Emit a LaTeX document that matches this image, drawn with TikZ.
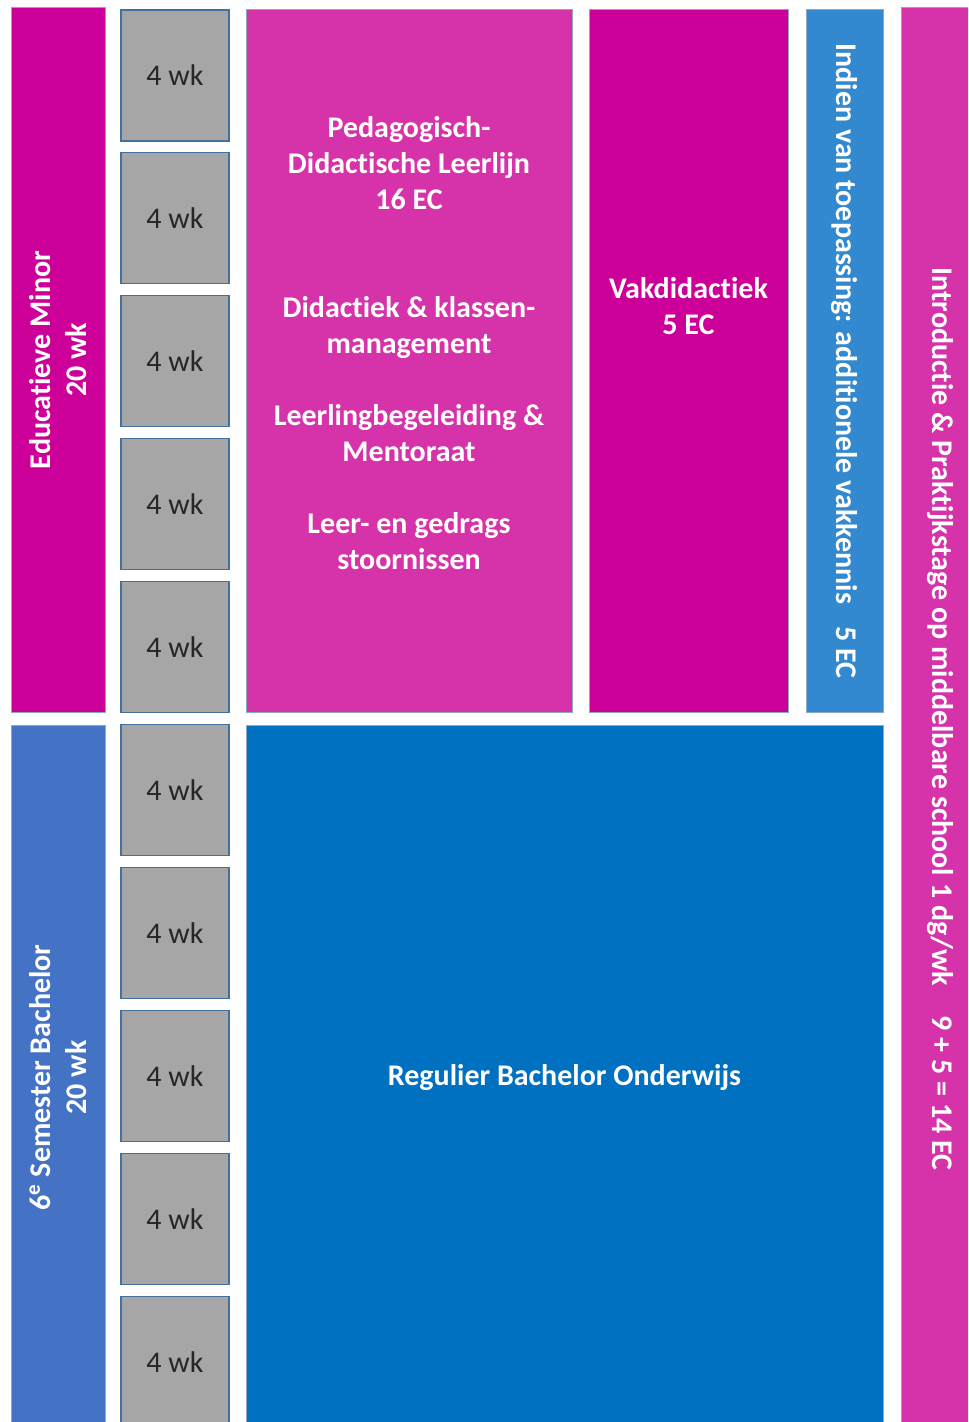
\documentclass[tikz,border=0pt]{standalone}
\usepackage{fontspec}
\setmainfont[Ligatures=NoCommon]{Carlito}
\usepackage{tikz}
\usetikzlibrary{positioning}

\definecolor{minormagenta}{RGB}{204, 0, 153}
\definecolor{leerlijnpink}{RGB}{214, 51, 170}
\definecolor{vakblauw}{RGB}{50, 137, 207}
\definecolor{semesterblauw}{RGB}{68, 114, 196}
\definecolor{regulierblauw}{RGB}{0, 112, 192}
\definecolor{weekgrijs}{RGB}{166, 166, 166}
\definecolor{randkleur}{RGB}{65, 113, 156}

\tikzset{
    blok/.style={draw=randkleur!60, line width=0.5pt, rectangle, inner sep=0pt, text=white, align=center, font=\bfseries\fontsize{15}{18}\selectfont},
    minorblok/.style={blok, fill=minormagenta},
    leerlijnblok/.style={blok, fill=leerlijnpink},
    vakblok/.style={blok, fill=vakblauw},
    semesterblok/.style={blok, fill=semesterblauw},
    regulierblok/.style={blok, fill=regulierblauw},
    weekblok/.style={draw=randkleur, line width=0.6pt, rectangle, fill=weekgrijs, minimum width=54pt, minimum height=65.5pt, text={black!85}, font=\fontsize{15}{18}\selectfont},
    bloktekst/.style={text=white, align=center, font=\bfseries\fontsize{15}{18}\selectfont},
}

\begin{document}
\begin{tikzpicture}[x=0.5pt, y=-0.5pt]
            \clip (0,0) rectangle (968,1422);
            \fill[white] (0,0) rectangle (968,1422);

            % Linker kolom
            \node[minorblok, minimum width=352pt, minimum height=47pt, rotate=90] (minor) at (58, 360) {Educatieve Minor\\20 wk};
            \node[semesterblok, minimum width=352.5pt, minimum height=47pt, rotate=90] (semester) at (58, 1077.5) {6\textsuperscript{e} Semester Bachelor\\20 wk};

            % Weken
            \foreach \i in {0,...,9}
                \node[weekblok] (week\i) at (175, 75.5+142.9*\i) {4 wk};

            % Leerlijn
            \node[leerlijnblok, minimum width=163pt, minimum height=351pt] (leerlijn) at (409, 361) {};
            \node[bloktekst] (leerlijntekst) at (409, 343) {Pedagogisch-\\Didactische Leerlijn\\16 EC\\[36pt]
                Didactiek \& klassen-\\management\\[18pt]
                Leerlingbegeleiding \&\\Mentoraat\\[18pt]
                Leer- en gedrags\\stoornissen};

            % Vakdidactiek
            \node[minorblok, minimum width=99.5pt, minimum height=351pt] (vakdidactiek) at (688.5, 361) {};
            \node[bloktekst] (vaktekst) at (688.5, 306) {Vakdidactiek\\5 EC};

            % Vakkennis
            \node[vakblok, minimum width=351pt, minimum height=38.5pt, rotate=-90] (vakkennis) at (844.5, 361) {Indien van toepassing: additionele vakkennis\hspace{0.75em}5 EC};

            % Regulier onderwijs
            \node[regulierblok, minimum width=318.5pt, minimum height=352.5pt] (regulier) at (564.5, 1077.5) {Regulier Bachelor Onderwijs};

            % Stage
            \node[leerlijnblok, minimum width=711pt, minimum height=39pt, rotate=-90] (stage) at (940, 719) {Introductie \& Praktijkstage op middelbare school 1 dg/wk\hspace{1em}9 + 5 = 14 EC};
        \end{tikzpicture}
\end{document}
